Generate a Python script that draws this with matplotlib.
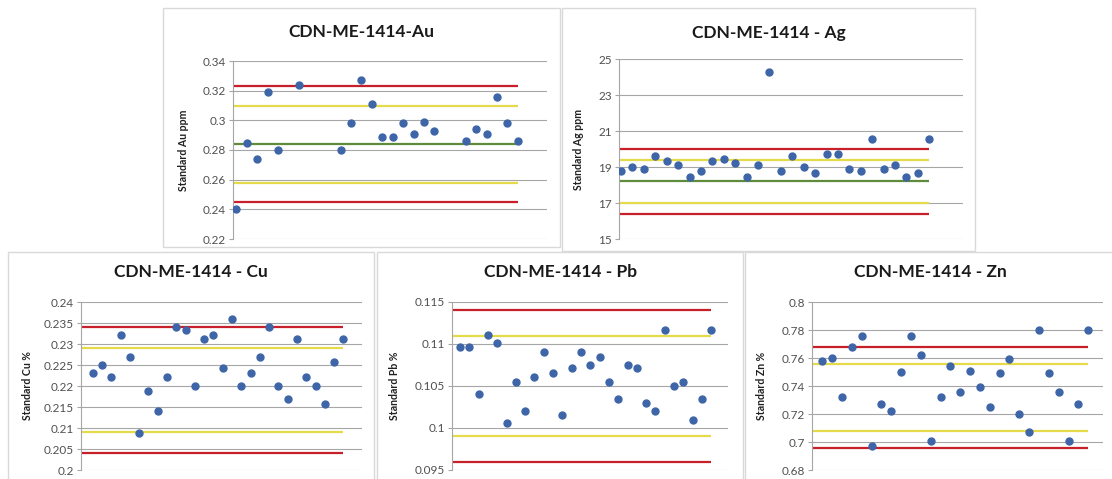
import numpy as np
import matplotlib
matplotlib.use("Agg")
import matplotlib.pyplot as plt
from matplotlib.patches import Rectangle

plt.rcParams['font.family'] = ['Lato', 'DejaVu Sans']

# Standard results in submission order (NaN = no result for that batch)
au_values = [0.240, 0.285, 0.274, 0.319, 0.280, np.nan, 0.324, np.nan, np.nan, np.nan,
             0.280, 0.298, 0.327, 0.311, 0.289, 0.289, 0.298, 0.291, 0.299, 0.293,
             np.nan, np.nan, 0.286, 0.294, 0.291, 0.316, 0.298, 0.286]
ag_values = [18.76, 19.00, 18.87, 19.63, 19.33, 19.09, 18.44, 18.78, 19.33, 19.44,
             19.24, 18.44, 19.09, 24.30, 18.76, 19.63, 19.00, 18.67, 19.72, 19.72,
             18.87, 18.78, 20.56, 18.87, 19.09, 18.44, 18.67, 20.56]
cu_values = [0.2231, 0.2250, 0.2222, 0.2321, 0.2270, 0.2089, 0.2189, 0.2141, 0.2222, 0.2340,
             0.2334, 0.2200, 0.2313, 0.2321, 0.2242, 0.2360, 0.2200, 0.2231, 0.2270, 0.2340,
             0.2200, 0.2168, 0.2313, 0.2222, 0.2200, 0.2158, 0.2258, 0.2313]
pb_values = [0.1096, 0.1096, 0.1040, 0.1111, 0.1101, 0.1006, 0.1055, 0.1020, 0.1061, 0.1090,
             0.1066, 0.1016, 0.1071, 0.1090, 0.1075, 0.1085, 0.1055, 0.1034, 0.1075, 0.1071,
             0.1030, 0.1020, 0.1117, 0.1050, 0.1055, 0.1010, 0.1034, 0.1117]
zn_values = [0.758, 0.760, 0.732, 0.768, 0.776, 0.697, 0.727, 0.722, 0.750, 0.776,
             0.762, 0.701, 0.732, 0.754, 0.736, 0.751, 0.739, 0.725, 0.749, 0.759,
             0.720, 0.707, 0.780, 0.749, 0.736, 0.701, 0.727, 0.780]

# control limits: (lower 3SD, lower 2SD, certified, upper 2SD, upper 3SD); None = not drawn
au_limits = [0.245, 0.258, 0.284, 0.310, 0.323]
ag_limits = [16.4, 17.0, 18.2, 19.4, 20.0]
cu_limits = [0.204, 0.209, None, 0.229, 0.234]
pb_limits = [0.096, 0.099, None, 0.111, 0.114]
zn_limits = [0.696, 0.708, None, 0.756, 0.768]

titles = ['CDN-ME-1414-Au', 'CDN-ME-1414 - Ag', 'CDN-ME-1414 - Cu',
          'CDN-ME-1414 - Pb', 'CDN-ME-1414 - Zn']
ylabels = ['Standard Au ppm', 'Standard Ag ppm', 'Standard Cu %',
           'Standard Pb %', 'Standard Zn %']
yticks = [[0.22, 0.24, 0.26, 0.28, 0.3, 0.32, 0.34],
          [15, 17, 19, 21, 23, 25],
          [0.2, 0.205, 0.21, 0.215, 0.22, 0.225, 0.23, 0.235, 0.24],
          [0.095, 0.1, 0.105, 0.11, 0.115],
          [0.68, 0.7, 0.72, 0.74, 0.76, 0.78, 0.8]]
yticklabels = [['0.22', '0.24', '0.26', '0.28', '0.3', '0.32', '0.34'],
               ['15', '17', '19', '21', '23', '25'],
               ['0.2', '0.205', '0.21', '0.215', '0.22', '0.225', '0.23', '0.235', '0.24'],
               ['0.095', '0.1', '0.105', '0.11', '0.115'],
               ['0.68', '0.7', '0.72', '0.74', '0.76', '0.78', '0.8']]

W, H = 1112, 479
fig = plt.figure(figsize=(W / 100, H / 100), dpi=100)

# layout in pixels: panel box (l, t, r, b), axes box (l, t, r, b), x-limits, ylabel offset
panels = [(163, 8, 560, 247), (562, 8, 975, 251), (8, 252, 374, 482),
          (377, 252, 743, 482), (745, 252, 1116, 482)]
axboxes = [(233, 61, 547, 239), (619, 59, 963, 239), (81, 302, 362, 470),
           (452, 302, 728, 470), (812, 302, 1103, 470)]
xlims = [(-0.32, 29.8), (-0.18, 29.95), (-1.26, 29.0), (-0.86, 28.8), (-1.05, 28.5)]
label_off = [44, 35, 48, 52, 45]
title_y = [32, 33, 272, 272, 272]

data = [au_values, ag_values, cu_values, pb_values, zn_values]
limits = [au_limits, ag_limits, cu_limits, pb_limits, zn_limits]
limit_colors = ['#c8202a', '#e4da4a', '#5f8c3c', '#e4da4a', '#c8202a']

for i in range(5):
    pl, pt, pr, pb = panels[i]
    fig.patches.append(Rectangle((pl / W, 1 - pb / H), (pr - pl) / W, (pb - pt) / H,
                                 transform=fig.transFigure, facecolor='white',
                                 edgecolor='#d9d9d9', linewidth=1.0, zorder=-5))
    l, t, r, b = axboxes[i]
    ax = fig.add_axes([l / W, 1 - b / H, (r - l) / W, (b - t) / H])
    ax.set_facecolor('none')
    x = np.arange(len(data[i]))
    ax.set_xlim(*xlims[i])
    ax.set_ylim(yticks[i][0], yticks[i][-1])
    for val, col in zip(limits[i], limit_colors):
        if val is not None:
            ax.hlines(val, xlims[i][0], x[-1], colors=col, linewidth=1.6, zorder=2)
    ax.plot(x, data[i], 'o', color='#3e65a8', markersize=5, zorder=3)
    ax.set_yticks(yticks[i])
    ax.set_yticklabels(yticklabels[i])
    ax.set_xticks([])
    ax.grid(axis='y', color='#a6a6a6', linewidth=0.8, zorder=1)
    ax.set_axisbelow(True)
    for s in ['top', 'right', 'bottom']:
        ax.spines[s].set_visible(False)
    ax.spines['left'].set_color('#a6a6a6')
    ax.spines['left'].set_linewidth(0.8)
    ax.tick_params(axis='y', length=3, width=0.8, color='#a6a6a6',
                   labelsize=8.5, labelcolor='#505050', pad=2)
    ax.set_ylabel(ylabels[i], fontsize=7.6, fontweight='bold', color='#202020')
    ax.yaxis.set_label_coords(-label_off[i] / (r - l), 0.5)
    fig.text(((pl + pr) / 2) / W, 1 - title_y[i] / H, titles[i], ha='center', va='center',
             fontsize=12.5, fontweight='bold', color='#1a1a1a')

fig.savefig('out.png', dpi=100)
